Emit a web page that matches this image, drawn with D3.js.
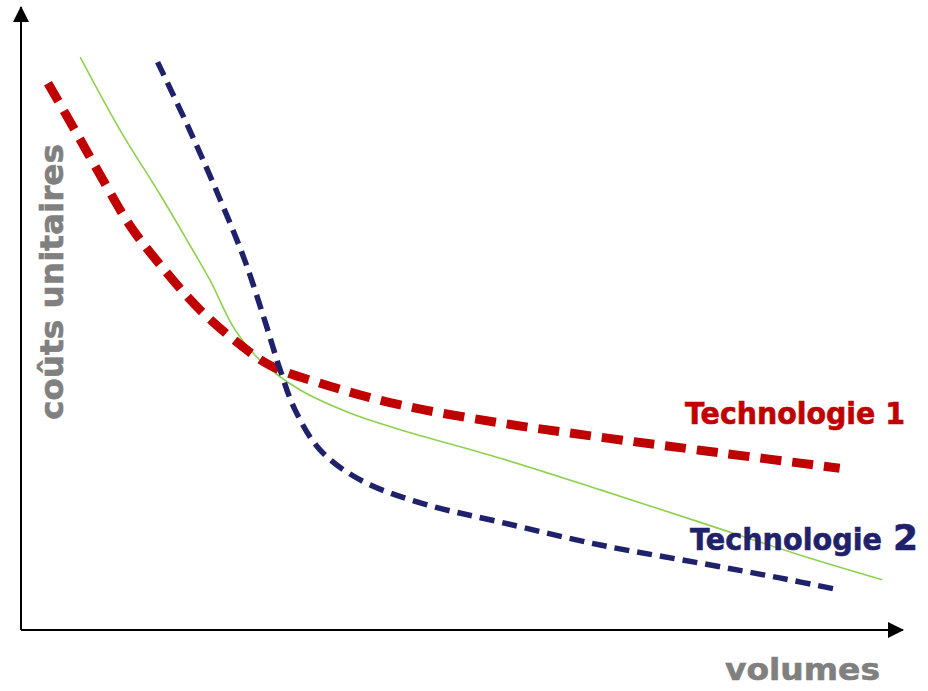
<!DOCTYPE html>
<html>
<head>
<meta charset="utf-8">
<script src="https://cdn.jsdelivr.net/npm/d3@7"></script>
<style>
body { margin: 0; background: #fff; }
text { font-family: "DejaVu Sans", Verdana, sans-serif; font-weight: bold; }
</style>
</head>
<body>
<div id="chart"></div>
<script>
// curves, in 0-100 units on both axes
tech1X = [3.1, 6.2, 9.1, 12.5, 16.0, 20.6, 25.2, 28.6, 34.4, 43.6, 55.1, 66.6, 78.0, 94.1]
tech1Y = [88.2, 80.6, 73.4, 65.3, 58.9, 51.6, 46.0, 42.7, 39.8, 36.3, 33.4, 31.1, 29.0, 26.1]

tech2X = [15.7, 19.4, 22.9, 25.7, 28.0, 29.8, 31.5, 34.4, 39.0, 45.9, 55.1, 66.6, 78.0, 87.2, 93.9]
tech2Y = [91.6, 80.6, 69.4, 59.7, 50.0, 41.9, 35.5, 29.0, 24.2, 20.5, 17.4, 13.7, 10.8, 8.4, 6.5]

envX = [6.8, 11.4, 16.0, 19.4, 21.7, 24.6, 27.5, 32.1, 37.8, 43.6, 55.1, 66.6, 78.0, 89.5, 99.0]
envY = [92.4, 80.6, 70.2, 62.1, 56.5, 48.4, 43.5, 38.7, 35.0, 32.3, 27.7, 22.6, 17.4, 12.1, 8.1]

svgWidth = 928
svgHeight = 691

margin = { top: 10, left: 21, right: 37, bottom: 61 }
width = svgWidth - margin.left - margin.right
height = svgHeight - margin.top - margin.bottom

svg = d3.select('#chart')
        .append('svg')
        .attr('width', svgWidth)
        .attr('height', svgHeight)

defs = svg.append('defs')
defs.append('marker')
    .attr('id', 'arrow')
    .attr('viewBox', '0 0 16 16')
    .attr('refX', 15)
    .attr('refY', 8)
    .attr('markerWidth', 16)
    .attr('markerHeight', 16)
    .attr('markerUnits', 'userSpaceOnUse')
    .attr('orient', 'auto')
  .append('path')
    .attr('d', 'M0,0 L16,8 L0,16 Z')
    .attr('fill', '#000')

chartGroup = svg.append('g')
                .attr('transform', `translate(${margin.left},${margin.top})`)

xScale = d3.scaleLinear().domain([0, 100]).range([0, width])
yScale = d3.scaleLinear().domain([0, 100]).range([height, 0])

// axes without ticks
chartGroup.append('g')
          .attr('transform', `translate(0,${height})`)
          .call(d3.axisBottom(xScale).tickValues([]).tickSizeOuter(0))
          .select('.domain').remove()
chartGroup.append('g')
          .call(d3.axisLeft(yScale).tickValues([]).tickSizeOuter(0))
          .select('.domain').remove()

chartGroup.append('line')
          .attr('x1', xScale(0)).attr('y1', yScale(0))
          .attr('x2', xScale(100) + 12).attr('y2', yScale(0))
          .attr('stroke', '#000').attr('stroke-width', 2)
          .attr('marker-end', 'url(#arrow)')
chartGroup.append('line')
          .attr('x1', xScale(0)).attr('y1', yScale(0))
          .attr('x2', xScale(0)).attr('y2', yScale(100) - 3)
          .attr('stroke', '#000').attr('stroke-width', 2)
          .attr('marker-end', 'url(#arrow)')

line = d3.line()
         .x(d => xScale(d[0]))
         .y(d => yScale(d[1]))
         .curve(d3.curveCatmullRom)

chartGroup.append('path')
          .datum(d3.zip(envX, envY))
          .attr('d', line)
          .attr('fill', 'none')
          .attr('stroke', '#8fd14f')
          .attr('stroke-width', 1.6)

chartGroup.append('path')
          .datum(d3.zip(tech1X, tech1Y))
          .attr('d', line)
          .attr('fill', 'none')
          .attr('stroke', '#c00000')
          .attr('stroke-width', 9)
          .attr('stroke-dasharray', '21,11')

chartGroup.append('path')
          .datum(d3.zip(tech2X, tech2Y))
          .attr('d', line)
          .attr('fill', 'none')
          .attr('stroke', '#1f216a')
          .attr('stroke-width', 5.5)
          .attr('stroke-dasharray', '15,8')

svg.append('text')
   .attr('x', 685).attr('y', 424)
   .attr('fill', '#c00000')
   .attr('stroke', '#c00000').attr('stroke-width', 0.6)
   .attr('font-size', 30)
   .attr('textLength', 220).attr('lengthAdjust', 'spacingAndGlyphs')
   .text('Technologie 1')

t2 = svg.append('g')
   .attr('fill', '#1f216a')
   .attr('stroke', '#1f216a').attr('stroke-width', 0.6)
t2.append('text')
  .attr('x', 690).attr('y', 550)
  .attr('font-size', 30)
  .attr('textLength', 192).attr('lengthAdjust', 'spacingAndGlyphs')
  .text('Technologie')
t2.append('text')
  .attr('x', 893).attr('y', 550)
  .attr('font-size', 36)
  .text('2')

svg.append('text')
   .attr('x', 725).attr('y', 680)
   .attr('fill', '#808080')
   .attr('stroke', '#808080').attr('stroke-width', 0.6)
   .attr('font-size', 31)
   .attr('textLength', 155).attr('lengthAdjust', 'spacingAndGlyphs')
   .text('volumes')

svg.append('text')
   .attr('transform', 'rotate(-90)')
   .attr('x', -420).attr('y', 63)
   .attr('fill', '#808080')
   .attr('stroke', '#808080').attr('stroke-width', 0.6)
   .attr('font-size', 32)
   .attr('textLength', 276).attr('lengthAdjust', 'spacingAndGlyphs')
   .text('coûts unitaires')
</script>
</body>
</html>
